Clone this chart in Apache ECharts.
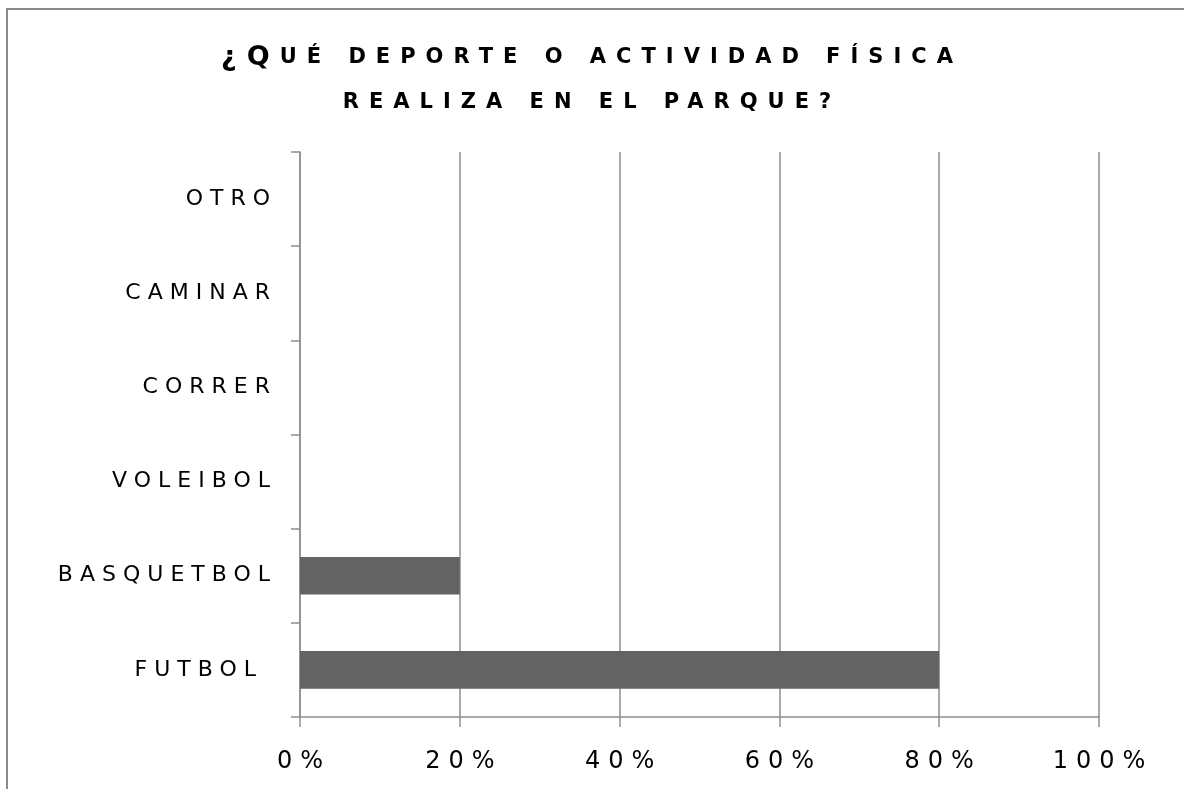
<!DOCTYPE html>
<html>
<head>
<meta charset="utf-8">
<style>
  html, body { margin: 0; padding: 0; background: #fff; }
  #chart { width: 1184px; height: 789px; }
</style>
<script src="https://cdn.jsdelivr.net/npm/echarts@6/dist/echarts.min.js"></script>
</head>
<body>
<div id="chart"></div>
<script>
// Wide, tracked lettering: every canvas text gets extra letter spacing,
// chosen from the font in use (bold title, percent labels, category labels).
(function () {
  const desc = Object.getOwnPropertyDescriptor(CanvasRenderingContext2D.prototype, 'font');
  Object.defineProperty(CanvasRenderingContext2D.prototype, 'font', {
    configurable: true,
    get() { return desc.get.call(this); },
    set(v) {
      desc.set.call(this, v);
      let sp = '7px';
      if (/bold/.test(v)) sp = '10px';
      else if (/24px/.test(v)) sp = '8px';
      this.letterSpacing = sp;
    }
  });
})();

// Activities, bottom to top
const categories = ['FUTBOL ', 'BASQUETBOL', 'VOLEIBOL', 'CORRER', 'CAMINAR', 'OTRO'];
// Share of respondents (%)
const shares = [80, 20, 0, 0, 0, 0];
// Percentage axis ticks
const axisMin = 0;
const axisMax = 100;
const axisStep = 20;

const titleLine1Big = '¿Q';
const titleLine1Rest = 'UÉ DEPORTE O ACTIVIDAD FÍSICA';
const titleLine2 = 'REALIZA EN EL PARQUE?';

const FONT = '"DejaVu Sans", sans-serif';
const GRID = '#8e8e8e';

const chart = echarts.init(document.getElementById('chart'), null, { renderer: 'canvas' });

chart.setOption({
  backgroundColor: '#ffffff',
  animation: false,
  graphic: [{
    type: 'rect',
    shape: { x: 7, y: 9, width: 1200, height: 800 },
    style: { fill: 'none', stroke: '#8a8a8a', lineWidth: 2 },
    silent: true
  }],
  title: {
    text: '{big|' + titleLine1Big + '}{sm|' + titleLine1Rest + '}\n{sm|' + titleLine2 + '}',
    left: 'center',
    top: 30,
    textStyle: {
      rich: {
        big: { fontFamily: FONT, fontWeight: 'bold', fontSize: 27, color: '#000', lineHeight: 45 },
        sm: { fontFamily: FONT, fontWeight: 'bold', fontSize: 21, color: '#000', lineHeight: 45 }
      }
    }
  },
  grid: { left: 300, right: 85, top: 152, bottom: 72, containLabel: false },
  xAxis: {
    type: 'value',
    min: axisMin,
    max: axisMax,
    interval: axisStep,
    axisLine: { show: true, lineStyle: { color: GRID, width: 1.5 } },
    axisTick: { show: true, length: 10, lineStyle: { color: GRID, width: 1.5 } },
    splitLine: { show: true, lineStyle: { color: GRID, width: 1.5 } },
    axisLabel: {
      formatter: '{value}%',
      fontFamily: FONT,
      fontSize: 24,
      color: '#000',
      margin: 29,
      padding: [0, 0, 0, 8]
    }
  },
  yAxis: {
    type: 'category',
    data: categories,
    axisLine: { show: true, lineStyle: { color: GRID, width: 1.5 } },
    axisTick: { show: true, length: 9, interval: 0, lineStyle: { color: GRID, width: 1.5 } },
    splitLine: { show: false },
    axisLabel: {
      fontFamily: FONT,
      fontSize: 22,
      color: '#000',
      margin: 23,
      interval: 0
    }
  },
  series: [{
    type: 'bar',
    data: shares,
    barCategoryGap: '60%',
    itemStyle: { color: '#636363' },
    silent: true
  }]
});
</script>
</body>
</html>
